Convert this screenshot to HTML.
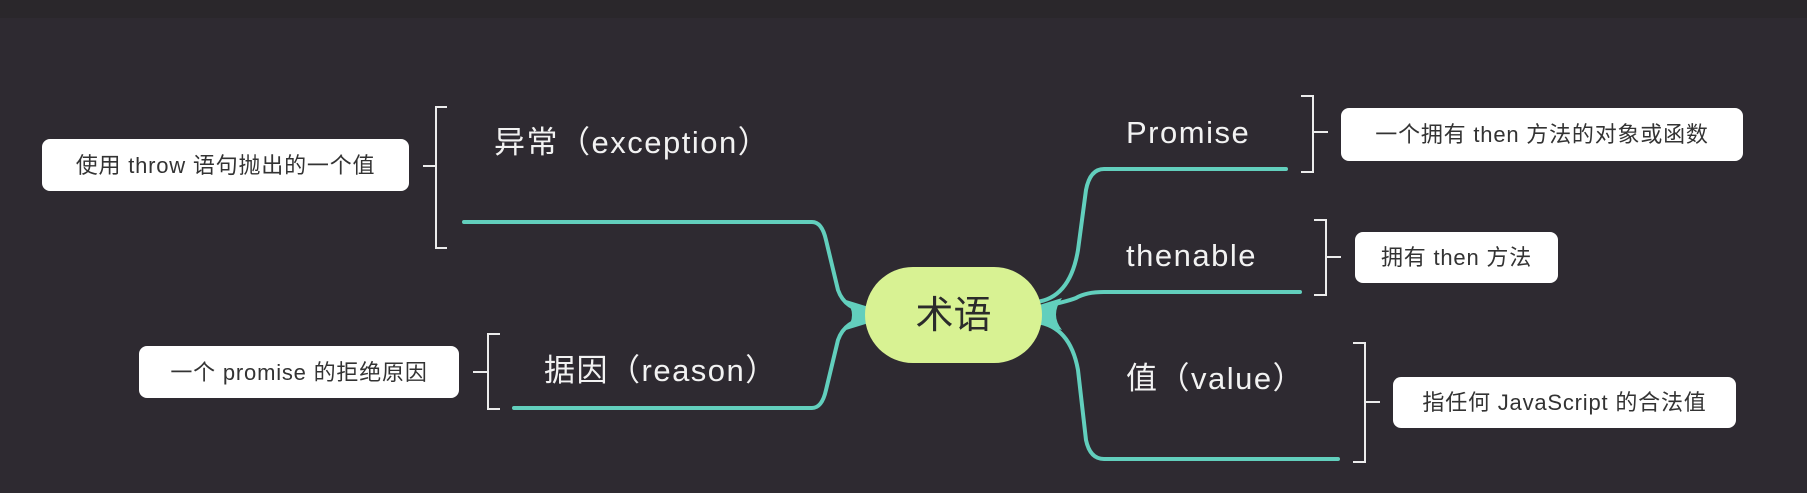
<!DOCTYPE html>
<html><head><meta charset="utf-8"><style>
html,body{margin:0;padding:0;background:#2e2a31;}
svg{display:block}
text{font-family:"Liberation Sans","Noto Sans CJK SC",sans-serif;}
</style></head><body>
<svg width="1807" height="493" viewBox="0 0 1807 493" xmlns="http://www.w3.org/2000/svg">
<rect width="1807" height="493" fill="#2e2a31"/>
<rect width="1807" height="18" fill="#2a272b"/>
<g fill="none" stroke="#62cfbd" stroke-width="4" stroke-linecap="round">
<path d="M464 222 H812 Q822 222 826 240 L838 290 Q845 310 870 312"/>
<path d="M514 408 H812 Q822 408 826 390 L838 340 Q845 320 870 318"/>
<path d="M1036 302 Q1070 298 1078 250 L1086 190 Q1090 169 1104 169 H1286"/>
<path d="M1036 308 Q1066 302 1076 298 Q1086 292 1104 292 H1300"/>
<path d="M1036 322 Q1070 326 1078 370 L1086 440 Q1090 459 1104 459 H1338"/>
</g>
<g fill="#62cfbd">
<path d="M846 300 Q858 315 846 330 L872 322 L872 308Z"/>
<path d="M1062 298 Q1050 315 1062 330 L1036 322 L1036 306Z"/>
</g>
<rect x="865" y="267" width="177" height="96" rx="48" fill="#d8f293"/>
<text x="953.5" y="328" font-size="38" fill="#2b2b2b" text-anchor="middle">术语</text>
<g fill="none" stroke="#ececec" stroke-width="2">
<path d="M447 107 H436 V248 H447 M436 166 H423"/>
<path d="M500 334 H488 V409 H500 M488 372 H473"/>
<path d="M1301 96 H1313 V172 H1301 M1313 132 H1328"/>
<path d="M1314 220 H1326 V295 H1314 M1326 257 H1341"/>
<path d="M1353 343 H1365 V462 H1353 M1365 402 H1380"/>
</g>
<g fill="#f2f2f2" font-size="31" letter-spacing="1.5">
<text x="494" y="153">异常（exception）</text>
<text x="544" y="381">据因（reason）</text>
<text x="1126" y="143">Promise</text>
<text x="1126" y="266">thenable</text>
<text x="1126" y="389">值（value）</text>
</g>
<g fill="#ffffff">
<rect x="42" y="139" width="367" height="52" rx="8"/>
<rect x="139" y="346" width="320" height="52" rx="8"/>
<rect x="1341" y="108" width="402" height="53" rx="8"/>
<rect x="1355" y="232" width="203" height="51" rx="8"/>
<rect x="1393" y="377" width="343" height="51" rx="8"/>
</g>
<g fill="#333" font-size="22" text-anchor="middle" letter-spacing="0.8">
<text x="225.5" y="173">使用 throw 语句抛出的一个值</text>
<text x="299" y="380">一个 promise 的拒绝原因</text>
<text x="1542" y="142">一个拥有 then 方法的对象或函数</text>
<text x="1456.5" y="265">拥有 then 方法</text>
<text x="1564.5" y="410">指任何 JavaScript 的合法值</text>
</g>
</svg>
</body></html>
